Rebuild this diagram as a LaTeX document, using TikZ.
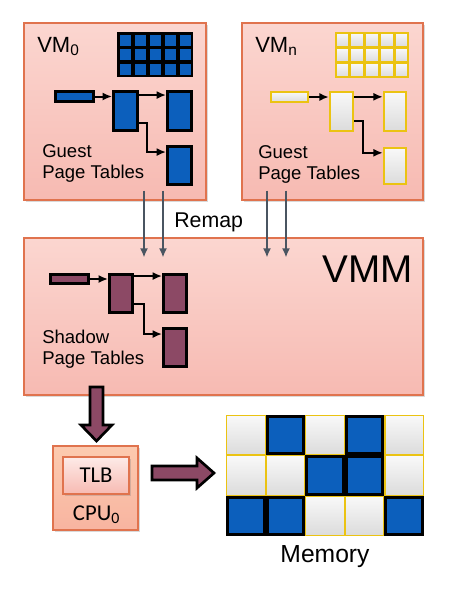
\documentclass[tikz,border=0pt]{standalone}
\usepackage{fontspec}
\setmainfont{Liberation Sans}
\newfontfamily\cpufont{Carlito}
\usetikzlibrary{arrows.meta}
\usetikzlibrary{calc,shadows}
\tikzset{>={Latex[length=7pt,width=6pt]}}
\definecolor{p1}{HTML}{FBD6D0}
\definecolor{p2}{HTML}{F7BAB2}
\definecolor{o1}{HTML}{E0734E}
\definecolor{b1}{HTML}{0C5FBC}
\definecolor{y1}{HTML}{EBC312}
\definecolor{m1}{HTML}{8C4965}
\definecolor{s1}{HTML}{4A5561}
\def\px{0.75pt}
\tikzset{
  vmbox/.style={draw=o1, line width=0.9pt, top color=p1, bottom color=p2, inner sep=0,
    drop shadow={shadow xshift=1.5pt, shadow yshift=-1.5pt, opacity=0.3}},
  pt0/.style={draw=black, line width=2.2pt, fill=b1, inner sep=0},
  ptn/.style={draw=y1, line width=1.4pt, top color=gray!5, bottom color=gray!28, inner sep=0},
  pts/.style={draw=black, line width=2.2pt, fill=m1, inner sep=0},
  ptr/.style={->, line width=1.5pt},
  remap/.style={->, draw=s1, line width=1.7pt},
  fat/.style={draw=black, line width=2pt, fill=m1, line join=miter},
  lbl/.style={inner sep=0},
}
\begin{document}
\begin{tikzpicture}[x=0.75pt, y=-0.75pt]
  \useasboundingbox (0,0) rectangle (460,589);
  % boxes
  \node[vmbox, minimum width=182*\px, minimum height=177*\px] (vm0) at (115,111.5) {};
  \node[vmbox, minimum width=181*\px, minimum height=177*\px] (vmn) at (332.5,111.5) {};
  \node[vmbox, minimum width=399*\px, minimum height=157*\px] (vmm) at (223.5,316.5) {};
  \node[vmbox, top color=p1!80!orange!90, bottom color=p2!90!orange, minimum width=85*\px, minimum height=84*\px] (cpu) at (95.5,488) {};
  \node[vmbox, top color=p1!50, bottom color=p2, minimum width=66*\px, minimum height=37*\px,
    font=\cpufont\fontsize{17}{20}\selectfont, text depth=-3pt] (tlb) at (96,475.5) {TLB};

  % guest page tables, VM0
  \fill[black] (117,32) rectangle (193,77);
  \foreach \i in {0,...,4} \foreach \j in {0,...,2}
    \fill[b1] ({119.5+\i*15},{34.5+\j*14.67}) rectangle ++(11.5,11);
  \node[pt0, minimum width=38*\px, minimum height=10*\px] (g0a) at (74.5,96.5) {};
  \node[pt0, minimum width=24*\px, minimum height=39*\px] (g0b) at (125.5,111) {};
  \node[pt0, minimum width=24*\px, minimum height=39*\px] (g0c) at (179.5,111) {};
  \node[pt0, minimum width=24*\px, minimum height=38*\px] (g0d) at (179.5,165.5) {};
  \draw[ptr] (g0a.east) -- (g0a.east -| g0b.west);
  \draw[ptr] ($(g0b.north east)+(0,5)$) -- ($(g0c.north west)+(0,5)$);
  \draw[ptr] ($(g0b.south east)+(0,-9)$) -- ++(8,0) |- ($(g0d.north west)+(0,7)$);

  % guest page tables, VMn
  \foreach \i in {0,...,4} \foreach \j in {0,...,2}
    \draw[ptn] ({335.75+\i*14.8},{32.75+\j*15.33}) rectangle ++(13.3,13.8);
  \node[ptn, minimum width=37.5*\px, minimum height=10.5*\px] (gna) at (289.5,97) {};
  \node[ptn, minimum width=23.5*\px, minimum height=39.5*\px] (gnb) at (341.5,111.5) {};
  \node[ptn, minimum width=22.5*\px, minimum height=39.5*\px] (gnc) at (395,111.5) {};
  \node[ptn, minimum width=22.5*\px, minimum height=36.5*\px] (gnd) at (395,166) {};
  \draw[ptr] (gna.east) -- (gna.east -| gnb.west);
  \draw[ptr] ($(gnb.north east)+(0,6)$) -- ($(gnc.north west)+(0,6)$);
  \draw[ptr] ($(gnb.south east)+(0,-11)$) -- ++(9,0) |- ($(gnd.north west)+(0,6)$);

  % shadow page tables
  \node[pts, minimum width=38*\px, minimum height=9*\px] (sa) at (69.5,279) {};
  \node[pts, minimum width=23*\px, minimum height=38*\px] (sb) at (121,293.5) {};
  \node[pts, minimum width=23*\px, minimum height=38*\px] (sc) at (175,293.5) {};
  \node[pts, minimum width=23*\px, minimum height=38*\px] (sd) at (175,347.5) {};
  \draw[ptr] (sa.east) -- (sa.east -| sb.west);
  \draw[ptr] ($(sb.north east)+(0,3)$) -- ($(sc.north west)+(0,3)$);
  \draw[ptr] ($(sb.south east)+(0,-9.5)$) -- ++(10,0) |- ($(sd.north west)+(0,7)$);

  % remap
  \draw[remap] (vm0.south)++(29,-10) --++(0,67);
  \draw[remap] (vm0.south)++(48,-10) --++(0,67);
  \draw[remap] (vmn.south)++(-65.5,-10) --++(0,67);
  \draw[remap] (vmn.south)++(-46.5,-10) --++(0,67);

  % memory
  \node[lbl, minimum width=198*\px, minimum height=121*\px] (mem) at (325,475.5) {};
  \foreach \i/\j in {0/0,2/0,4/0,0/1,1/1,4/1,2/2,3/2}
    \draw[ptn, line width=0.9pt] ({226.5+\i*39.6},{415.5+\j*40.33}) rectangle ++(38.6,39.33);
  \foreach \i/\j in {1/0,3/0,2/1,3/1,0/2,1/2,4/2}
    \draw[pt0] ({227.5+\i*39.6},{416.5+\j*40.33}) rectangle ++(36.6,37.33);

  % fat arrows
  \coordinate (dn) at (96.5,387);
  \coordinate (rt) at (152,473);
  \draw[fat] (dn) ++(-6.5,0) --++(0,38) --++(-9,0) --++(15.5,16) --++(15.5,-16) --++(-9,0) --++(0,-38) -- cycle;
  \draw[fat] (rt) ++(0,-7) --++(45,0) --++(0,-8) --++(17,15) --++(-17,15) --++(0,-8) --++(-45,0) -- cycle;

  % labels
  \node[lbl, font=\fontsize{16.5}{20}\selectfont, anchor=base west] (vm0lbl) at (37,52) {VM\textsubscript{0}};
  \node[lbl, font=\fontsize{16.5}{20}\selectfont, anchor=base west] (vmnlbl) at (255,52) {VM\textsubscript{n}};
  \node[lbl, font=\fontsize{13.9}{15.75}\selectfont, anchor=north west, align=left] (g0lbl) at (42,144) {Guest\\Page Tables};
  \node[lbl, font=\fontsize{13.9}{15.75}\selectfont, anchor=north west, align=left] (gnlbl) at (258,145) {Guest\\Page Tables};
  \node[lbl, font=\fontsize{13.9}{15.75}\selectfont, anchor=north west, align=left] (slbl) at (42,330) {Shadow\\Page Tables};
  \node[lbl, font=\fontsize{16}{20}\selectfont, anchor=base west] (remaplbl) at (174,227) {Remap};
  \node[lbl, font=\fontsize{29}{34}\selectfont, anchor=base west] (vmmlbl) at (322,282) {VMM};
  \node[lbl, font=\cpufont\fontsize{17}{20}\selectfont, anchor=base] (cpulbl) at (96.5,520) {CPU\textsubscript{0}};
  \node[lbl, font=\fontsize{18.5}{22}\selectfont, anchor=base] (memlbl) at ($(mem.south)+(0,26)$) {Memory};
\end{tikzpicture}
\end{document}
